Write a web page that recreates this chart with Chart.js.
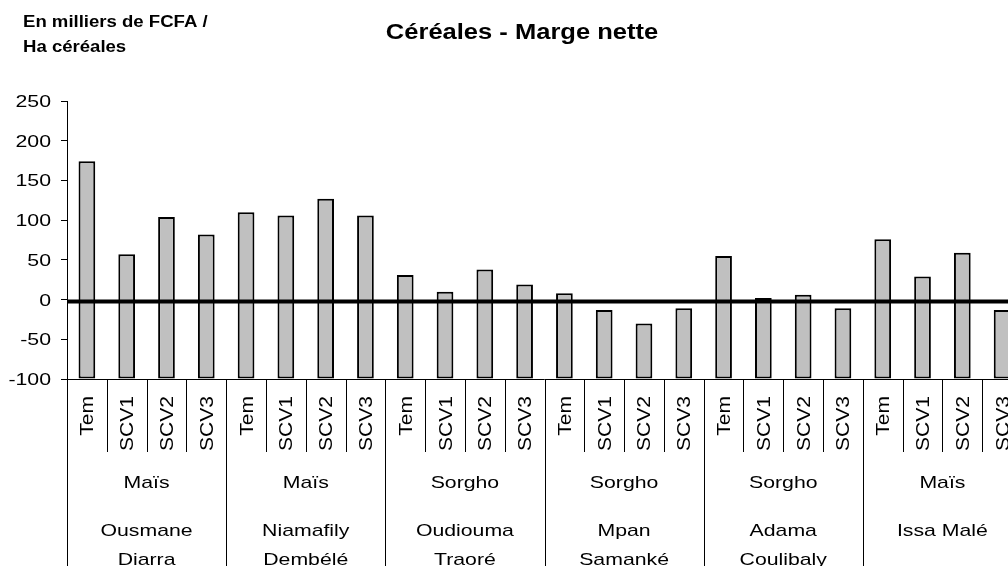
<!doctype html>
<html>
<head>
    <meta charset="utf-8">
    <title>Céréales - Marge nette</title>
    <script src="https://cdn.jsdelivr.net/npm/chart.js@4.4.1/dist/chart.umd.min.js"></script>
    <style>
        html, body { margin: 0; padding: 0; background: #fff; overflow: hidden; }
        #wrap { width: 1008px; height: 566px; overflow: hidden; }
    </style>
</head>
<body>
<div id="wrap"><canvas id="myChart" width="1030" height="566"></canvas></div>
<script>
    // data
    var treatments = ['Tem', 'SCV1', 'SCV2', 'SCV3'];
    var crops = ['Maïs', 'Maïs', 'Sorgho', 'Sorgho', 'Sorgho', 'Maïs'];
    var farmers = [['Ousmane', 'Diarra'], ['Niamafily', 'Dembélé'], ['Oudiouma', 'Traoré'],
                   ['Mpan', 'Samanké'], ['Adama', 'Coulibaly'], ['Issa Malé']];
    var margeNette = [174, 57, 104, 82,  110, 106, 127, 106,  31, 10, 38, 19,
                      8, -13, -30, -11,  55, 2, 6, -11,  76, 29, 59, -13];
    var yTicks = [250, 200, 150, 100, 50, 0, -50, -100];
    var title = 'Céréales - Marge nette';
    var unitLines = ['En milliers de FCFA /', 'Ha céréales'];

    var labels = [];
    crops.forEach(function(c, g) {
        treatments.forEach(function(t) { labels.push(t); });
    });

    var FONT = '"Liberation Sans", Arial, sans-serif';

    function txt(ctx, s, x, y, size, bold, sx, align) {
        ctx.save();
        ctx.font = (bold ? 'bold ' : '') + size + 'px ' + FONT;
        ctx.fillStyle = '#000';
        ctx.textAlign = align;
        ctx.textBaseline = 'alphabetic';
        ctx.translate(x, y);
        ctx.scale(sx, 1);
        ctx.fillText(s, 0, 0);
        ctx.restore();
    }

    var decor = {
        id: 'decor',
        afterDatasetsDraw: function(chart) {
            var ctx = chart.ctx, a = chart.chartArea;
            var y = chart.scales.y;
            // thick line at zero
            var y0 = y.getPixelForValue(0) + 2;
            ctx.save();
            ctx.strokeStyle = '#000';
            ctx.lineWidth = 4;
            ctx.beginPath();
            ctx.moveTo(a.left, y0);
            ctx.lineTo(a.right, y0);
            ctx.stroke();
            ctx.restore();
        },
        afterDraw: function(chart) {
            var ctx = chart.ctx, a = chart.chartArea;
            var x = chart.scales.x, y = chart.scales.y;
            var n = labels.length;
            var w = (a.right - a.left) / n;

            // title and unit
            txt(ctx, title, 522, 39, 22, true, 1.16, 'center');
            txt(ctx, unitLines[0], 23, 27, 16, true, 1.16, 'left');
            txt(ctx, unitLines[1], 23, 52, 16, true, 1.16, 'left');

            // y tick labels
            yTicks.forEach(function(v) {
                txt(ctx, String(v), 51, y.getPixelForValue(v) + 6, 16, false, 1.33, 'right');
            });

            // category axis line and separators
            ctx.save();
            ctx.strokeStyle = '#000';
            ctx.lineWidth = 1;
            ctx.beginPath();
            ctx.moveTo(a.left, a.bottom + 0.5);
            ctx.lineTo(a.right, a.bottom + 0.5);
            for (var i = 0; i <= n; i++) {
                var xx = Math.round(a.left + i * w) + 0.5;
                ctx.moveTo(xx, a.bottom);
                ctx.lineTo(xx, i % 4 === 0 ? 566 : 452);
            }
            ctx.stroke();
            ctx.restore();

            // rotated treatment labels
            labels.forEach(function(l, i) {
                var cx = x.getPixelForValue(i);
                ctx.save();
                ctx.font = '18px ' + FONT;
                ctx.fillStyle = '#000';
                ctx.textAlign = 'right';
                ctx.textBaseline = 'alphabetic';
                ctx.translate(cx + 6.5, 396);
                ctx.rotate(-Math.PI / 2);
                ctx.scale(1.17, 1);
                ctx.fillText(l, 0, 0);
                ctx.restore();
            });

            // crop and farmer labels
            crops.forEach(function(c, g) {
                var gx = a.left + (g * 4 + 2) * w;
                txt(ctx, c, gx, 488, 17, false, 1.25, 'center');
                farmers[g].forEach(function(line, k) {
                    txt(ctx, line, gx, 536 + k * 29, 17, false, 1.25, 'center');
                });
            });
        }
    };

    var ctx = document.getElementById('myChart').getContext('2d');
    var _chart = new Chart(ctx, {
        type: 'bar',
        data: {
            labels: labels,
            datasets: [{
                data: margeNette,
                base: -100,
                backgroundColor: '#c0c0c0',
                borderColor: '#000',
                borderWidth: 2,
                borderSkipped: false,
                barPercentage: 0.42,
                categoryPercentage: 1
            }]
        },
        options: {
            responsive: false,
            animation: false,
            devicePixelRatio: 1,
            layout: { padding: { left: 0, right: 8, top: 101, bottom: 187 } },
            plugins: {
                legend: { display: false },
                tooltip: { enabled: false },
                title: { display: false }
            },
            scales: {
                x: { display: false },
                y: {
                    min: -100,
                    max: 250,
                    afterFit: function(s) { s.width = 67; },
                    ticks: { stepSize: 50, display: false },
                    grid: {
                        drawOnChartArea: false,
                        drawTicks: true,
                        tickLength: 6,
                        color: '#000'
                    },
                    border: { display: true, color: '#000', width: 1 }
                }
            }
        },
        plugins: [decor]
    });
</script>
</body>
</html>
